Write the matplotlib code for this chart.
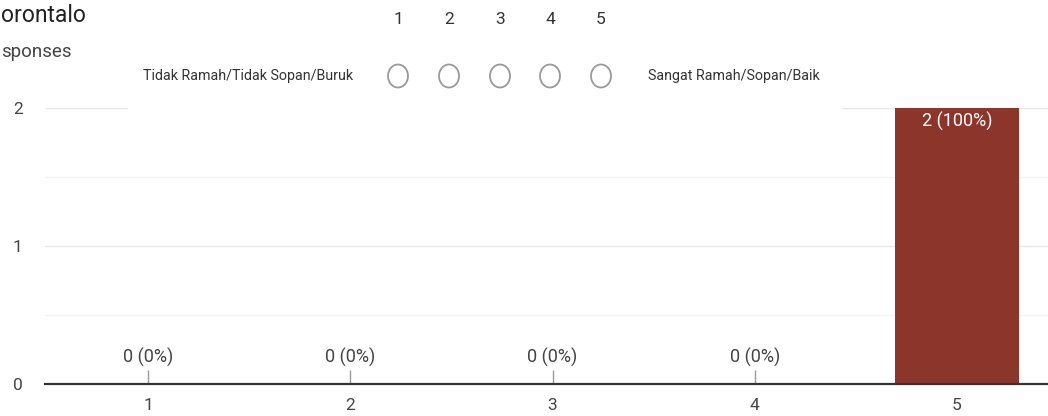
import matplotlib.pyplot as plt
from matplotlib.patches import Ellipse, Rectangle

categories = [1, 2, 3, 4, 5]
counts = [0, 0, 0, 0, 2]
total = sum(counts)
y_ticks = [0, 1, 2]
scale_numbers = ["1", "2", "3", "4", "5"]
low_label = "Tidak Ramah/Tidak Sopan/Buruk"
high_label = "Sangat Ramah/Sopan/Baik"

plt.rcParams['font.family'] = ['Roboto', 'DejaVu Sans']
narrow = ['Liberation Sans Narrow', 'Roboto', 'DejaVu Sans']

W, H = 1048, 416
fig = plt.figure(figsize=(W / 100, H / 100), dpi=100)
fig.patch.set_facecolor('white')

ax = fig.add_axes([45 / W, 1 - 384 / H, 1 - 45 / W, (384 - 108) / H])
ax.set_xlim(0.49, 5.45)
ax.set_ylim(0, 2)

ax.bar(categories, counts, width=0.61, color='#8b352b', zorder=3)

# value labels
for c, v in zip(categories, counts):
    lbl = f"{v} ({v / total * 100:.0f}%)"
    if v == 0:
        ax.vlines(c, 0, 0.1, color='#999999', lw=1, zorder=3)
        ax.text(c, 0.12, lbl, ha='center', va='bottom', fontsize=13, color='#444444')
    else:
        ax.text(c, v - 0.025, lbl, ha='center', va='top', fontsize=13, color='white', zorder=4)

ax.set_yticks(y_ticks)
ax.set_yticks([0.5, 1.5], minor=True)
ax.set_xticks(categories)
ax.grid(axis='y', which='major', color='#e8e8e8', lw=1, zorder=0)
ax.grid(axis='y', which='minor', color='#f4f4f4', lw=1, zorder=0)
ax.tick_params(axis='both', which='both', length=0, labelsize=12.5, labelcolor='#444444')
ax.tick_params(axis='y', pad=16)
ax.tick_params(axis='x', pad=10)
for s in ['top', 'right', 'left']:
    ax.spines[s].set_visible(False)
ax.spines['bottom'].set_color('#333333')
ax.spines['bottom'].set_linewidth(1.6)
ax.spines['bottom'].set_zorder(5)

# overlay drawn in pixel coordinates
ov = fig.add_axes([0, 0, 1, 1], zorder=10)
ov.set_xlim(0, W)
ov.set_ylim(H, 0)
ov.axis('off')
ov.patch.set_alpha(0)

ov.text(1, 15, "orontalo", fontsize=16.5, color='#222222', va='center', ha='left')
ov.text(1, 52, "sponses", fontsize=13.5, color='#444444', va='center', ha='left')

ov.add_patch(Rectangle((128, 0), 842 - 128, 111, facecolor='white', edgecolor='none'))
num_x = [398, 449, 500, 550, 601]
for x, n in zip(num_x, scale_numbers):
    ov.text(x, 20, n, fontsize=12.5, color='#333333', ha='center', va='center', family=narrow)
    ov.add_patch(Ellipse((x, 76), 20, 23, facecolor='white', edgecolor='#999999', lw=1.3))
ov.text(143, 76, low_label, fontsize=10.3, color='#333333', ha='left', va='center', family=narrow)
ov.text(648, 76, high_label, fontsize=10.3, color='#333333', ha='left', va='center', family=narrow)

fig.savefig('out.png', dpi=100)
